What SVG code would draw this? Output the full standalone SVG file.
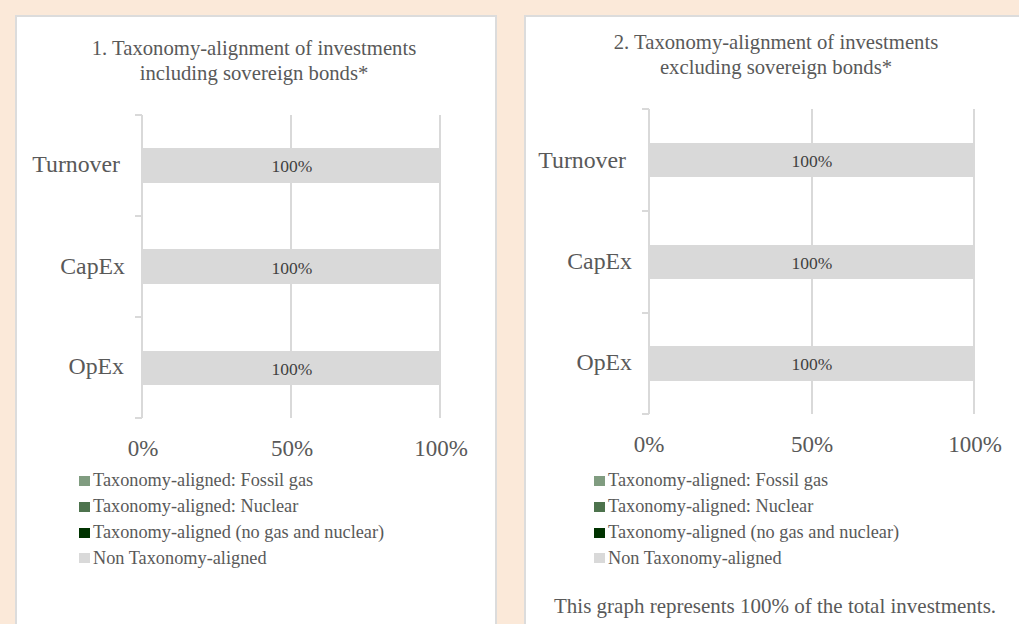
<svg xmlns="http://www.w3.org/2000/svg" width="1019" height="624" viewBox="0 0 1019 624">
<style>
.t{font-family:"Liberation Serif","Times New Roman",serif;fill:#595959}
.title{font-size:20.7px;text-anchor:middle}
.cat{font-size:23.8px;text-anchor:end}
.ax{font-size:23px;text-anchor:middle}
.bl{font-size:17.5px;text-anchor:middle;fill:#404040}
.lg{font-size:18.3px}
.note{font-size:21px}
.grid{stroke:#D9D9D9;stroke-width:2;fill:none}
.bar{fill:#D9D9D9}
.panel{fill:#FFFFFF;stroke:#DCDCDC;stroke-width:2}
</style>
<rect x="0" y="0" width="1019" height="624" fill="#FBE9D9"/>
<rect class="panel" x="16" y="16" width="480" height="620"/>
<rect class="panel" x="525" y="16" width="510" height="620"/>

<g id="chart1">
  <text class="t title" x="254" y="55">1. Taxonomy-alignment of investments</text>
  <text class="t title" x="254" y="80">including sovereign bonds*</text>
  <g id="grid1">
    <path class="grid" d="M142,115 V418 M135,115 H142 M135,216 H142 M135,317 H142 M135,418 H142 M291,115 V418 M440,115 V418"/>
  </g>
  <g id="bars1">
    <rect class="bar" x="142" y="148" width="298" height="35"/>
    <rect class="bar" x="142" y="249" width="298" height="35"/>
    <rect class="bar" x="142" y="351" width="298" height="34"/>
    <text class="t bl" x="292" y="172">100%</text>
    <text class="t bl" x="292" y="274">100%</text>
    <text class="t bl" x="292" y="375">100%</text>
  </g>
  <text class="t cat" x="120" y="172">Turnover</text>
  <text class="t cat" x="125" y="274">CapEx</text>
  <text class="t cat" x="124" y="374">OpEx</text>
  <text class="t ax" x="143" y="456">0%</text>
  <text class="t ax" x="292" y="456">50%</text>
  <text class="t ax" x="441" y="456">100%</text>
  <g id="legend1">
    <rect x="79" y="476" width="11" height="10" fill="#809C80"/>
    <text class="t lg" x="93" y="486">Taxonomy-aligned: Fossil gas</text>
    <rect x="79" y="502" width="11" height="10" fill="#4D734D"/>
    <text class="t lg" x="93" y="512">Taxonomy-aligned: Nuclear</text>
    <rect x="79" y="528" width="11" height="10" fill="#003300"/>
    <text class="t lg" x="93" y="538">Taxonomy-aligned (no gas and nuclear)</text>
    <rect x="79" y="553" width="11" height="10" fill="#D9D9D9"/>
    <text class="t lg" x="93" y="564">Non Taxonomy-aligned</text>
  </g>
</g>

<g id="chart2">
  <text class="t title" x="776" y="49">2. Taxonomy-alignment of investments</text>
  <text class="t title" x="776" y="74">excluding sovereign bonds*</text>
  <g id="grid2">
    <path class="grid" d="M649,109 V414 M642,109 H649 M642,211 H649 M642,313 H649 M642,414 H649 M812,109 V414 M974,109 V414"/>
  </g>
  <g id="bars2">
    <rect class="bar" x="649" y="143" width="325" height="34"/>
    <rect class="bar" x="649" y="245" width="325" height="34"/>
    <rect class="bar" x="649" y="346" width="325" height="35"/>
    <text class="t bl" x="812" y="167">100%</text>
    <text class="t bl" x="812" y="269">100%</text>
    <text class="t bl" x="812" y="370">100%</text>
  </g>
  <text class="t cat" x="626" y="168">Turnover</text>
  <text class="t cat" x="632" y="269">CapEx</text>
  <text class="t cat" x="632" y="370">OpEx</text>
  <text class="t ax" x="649" y="452">0%</text>
  <text class="t ax" x="812" y="452">50%</text>
  <text class="t ax" x="975" y="452">100%</text>
  <g id="legend2">
    <rect x="594" y="476" width="11" height="10" fill="#809C80"/>
    <text class="t lg" x="608" y="486">Taxonomy-aligned: Fossil gas</text>
    <rect x="594" y="502" width="11" height="10" fill="#4D734D"/>
    <text class="t lg" x="608" y="512">Taxonomy-aligned: Nuclear</text>
    <rect x="594" y="528" width="11" height="10" fill="#003300"/>
    <text class="t lg" x="608" y="538">Taxonomy-aligned (no gas and nuclear)</text>
    <rect x="594" y="553" width="11" height="10" fill="#D9D9D9"/>
    <text class="t lg" x="608" y="564">Non Taxonomy-aligned</text>
  </g>
  <text class="t note" x="554" y="613">This graph represents 100% of the total investments.</text>
</g>
</svg>
